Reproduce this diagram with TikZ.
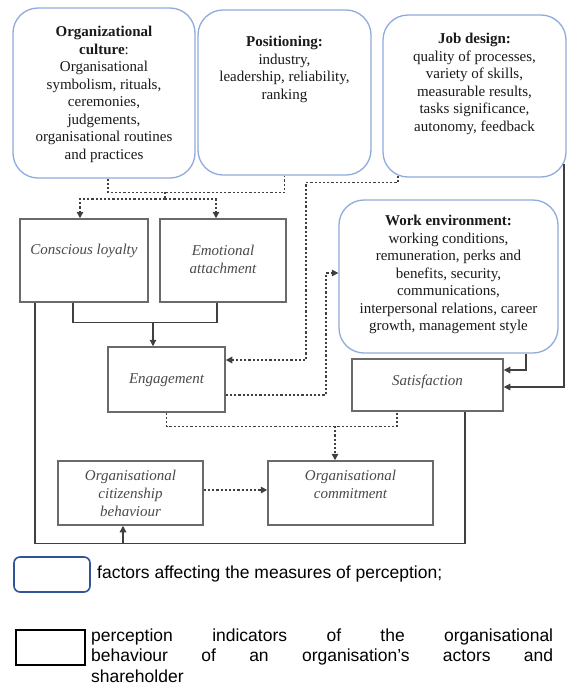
\documentclass[tikz,border=0pt]{standalone}
\usepackage{fontspec}
\setmainfont{Liberation Serif}
\newfontfamily\arialf{Liberation Sans}
\usetikzlibrary{arrows.meta}
\definecolor{rbord}{HTML}{8FAADC}
\definecolor{legblue}{HTML}{2F5597}
\definecolor{boxgray}{HTML}{6A6A6A}
\definecolor{linegray}{HTML}{404040}
\definecolor{txtdark}{HTML}{1A1A1A}
\definecolor{txtital}{HTML}{4A4A4A}
\begin{document}
\begin{tikzpicture}[x=1pt,y=-1pt,
  rbox/.style={draw=rbord, line width=1.3pt, rounded corners=25pt, inner sep=0pt},
  pbox/.style={draw=boxgray, line width=1.5pt, inner sep=0pt},
  rtext/.style={align=center, inner sep=0pt, anchor=north, font=\fontsize{15}{17.5}\selectfont, text=txtdark},
  itext/.style={align=center, inner sep=0pt, font=\fontsize{15}{18}\selectfont\itshape, text=txtital},
  conn/.style={draw=linegray, line width=1.2pt},
  dconn/.style={draw=linegray, line width=1.4pt, dash pattern=on 2.2pt off 2pt},
  tip/.style={-{Triangle[length=6.5pt,width=6.5pt]}}
]
\fill[white] (0,0) rectangle (570,697);
\useasboundingbox (0,0) rectangle (570,697);

% factor boxes (rounded)
\node[rbox, minimum width=182pt, minimum height=170pt] (oc) at (104,93) {};
\node[rbox, minimum width=173pt, minimum height=165pt] (pos) at (284.5,92.5) {};
\node[rbox, minimum width=183pt, minimum height=162pt] (jd) at (474.5,96) {};
\node[rbox, minimum width=219pt, minimum height=153pt] (we) at (448.5,276.5) {};

\node[rtext] (oct) at (104,26) {\textbf{Organizational}\\\textbf{culture}:\\Organisational\\symbolism, rituals,\\ceremonies,\\judgements,\\organisational routines\\and practices};
\node[rtext] (post) at (284.5,36) {\textbf{Positioning:}\\industry,\\leadership, reliability,\\ranking};
\node[rtext] (jdt) at (474.5,33) {\textbf{Job design:}\\quality of processes,\\variety of skills,\\measurable results,\\tasks significance,\\autonomy, feedback};
\node[rtext] (wet) at (448.5,215) {\textbf{Work environment:}\\working conditions,\\remuneration, perks and\\benefits, security,\\communications,\\interpersonal relations, career\\growth, management style};

% indicator boxes
\node[pbox, minimum width=128pt, minimum height=83pt] (cl) at (84,260.5) {};
\node[pbox, minimum width=126pt, minimum height=83pt] (ea) at (223,260.5) {};
\node[pbox, minimum width=117pt, minimum height=65pt] (eng) at (166.5,379.5) {};
\node[pbox, minimum width=151pt, minimum height=52pt] (sat) at (427.5,385) {};
\node[pbox, minimum width=145pt, minimum height=64pt] (ocb) at (130.5,493) {};
\node[pbox, minimum width=165pt, minimum height=64pt] (oco) at (350.5,493) {};

\node[itext] (clt) at (84,251) {Conscious loyalty};
\node[itext] (eat) at (223,259) {Emotional\\attachment};
\node[itext] (engt) at (166.5,380) {Engagement};
\node[itext] (satt) at (427.5,382) {Satisfaction};
\node[itext] (ocbt) at (130.5,493) {Organisational\\citizenship\\behaviour};
\node[itext] (ocot) at (350.5,484) {Organisational\\commitment};

% connectors from culture and positioning
\coordinate (j1) at (165,192);
\coordinate (j2) at (165,199);
\draw[dconn] ([xshift=4pt]oc.south) -- ++(0,14) -| (pos.south);
\draw[dconn] (j1) -- (j2);
\draw[dconn,tip] (j2) -| ([xshift=-4pt]cl.north);
\draw[dconn,tip] (j2) -| ([xshift=-7pt]ea.north);

% loyalty + attachment -> engagement
\coordinate (j3) at (153,322);
\draw[conn] ([xshift=-11pt]cl.south) -- ++(0,20) -| ([xshift=-6pt]ea.south);
\draw[conn,tip] (j3) -- (j3 |- eng.north);

% job design -> engagement
\coordinate (c4) at (306,360);
\draw[dconn,tip] ([xshift=-76.5pt,yshift=2pt]jd.south) -- ++(0,7) -| (c4) -- (c4 -| eng.east);

% engagement -> work environment
\coordinate (c5) at (326,395);
\draw[dconn,tip] (c5 -| eng.east) -- (c5) |- ([yshift=3.5pt]we.west);

% work environment -> satisfaction
\draw[conn,tip] ([xshift=77.5pt]we.south) |- ([yshift=15pt]sat.east);
% job design -> satisfaction
\draw[conn,tip] ([xshift=89.5pt,yshift=14pt]jd.south) |- ([yshift=-2pt]sat.east);

% engagement + satisfaction -> commitment
\coordinate (j8) at (335,426);
\draw[dconn] (eng.south) -- ++(0,14) -| ([xshift=-30.5pt]sat.south);
\draw[dconn,tip] (j8) -- (j8 |- oco.north);

% citizenship -> commitment
\draw[dconn,tip] ([yshift=3pt]ocb.east) -- ([yshift=3pt]oco.west);

% loop to citizenship behaviour
\coordinate (j10) at (123,543);
\draw[conn] ([xshift=37.5pt]sat.south) -- ++(0,132) -| ([xshift=-49pt]cl.south);
\draw[conn,tip] (j10) -- (j10 |- ocb.south);

% legend
\node[draw=legblue, line width=1.6pt, rounded corners=6pt, minimum width=76pt, minimum height=35pt, inner sep=0pt] (lg1) at (52,574.5) {};
\node[draw=black, line width=2.2pt, minimum width=69pt, minimum height=35pt, inner sep=0pt] (lg2) at (50.5,647.5) {};
\node[anchor=west, inner sep=0pt, font=\arialf\fontsize{17.5}{20.5}\selectfont] (lt1) at (97,574) {factors affecting the measures of perception;};
\node[anchor=north west, inner sep=0pt] (lt2) at (91,628.5) {\parbox[t]{462pt}{\arialf\fontsize{17.5}{20.5}\selectfont perception indicators of the organisational\linebreak behaviour of an organisation’s actors and\linebreak shareholder}};
\end{tikzpicture}
\end{document}
